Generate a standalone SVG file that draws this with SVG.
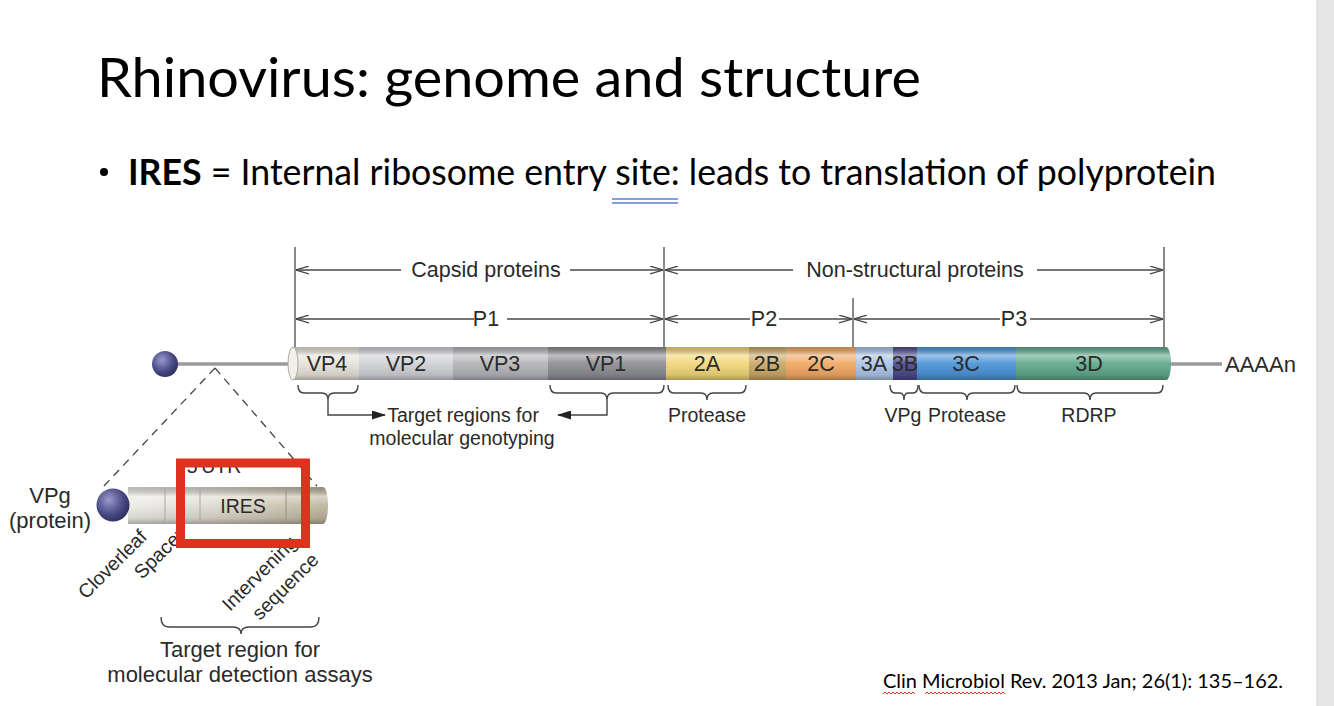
<svg xmlns="http://www.w3.org/2000/svg" width="1334" height="706" viewBox="0 0 1334 706">
<style>
.slide{font-family:Lato,"Open Sans","Liberation Sans",sans-serif;fill:#000}
.lbl{font-family:"Liberation Sans",Arial,sans-serif;fill:#2a2a2a;font-size:21.5px}
.sm{font-family:"Liberation Sans",Arial,sans-serif;fill:#2a2a2a;font-size:19.5px}
.big{font-family:"Liberation Sans",Arial,sans-serif;fill:#2a2a2a;font-size:22px}
.dim{stroke:#4a4a4a;stroke-width:1.3;fill:none}
.brace{stroke:#444;stroke-width:1.4;fill:none}
.mid{text-anchor:middle}
</style>
<defs>
<marker id="chev" viewBox="0 0 13 9" refX="13" refY="4.5" markerWidth="13" markerHeight="9" markerUnits="userSpaceOnUse" orient="auto-start-reverse">
<path d="M0,0.5 L13,4.5 L0,8.5" fill="none" stroke="#444" stroke-width="1.2"/>
</marker>
<marker id="tri" viewBox="0 0 14 9" refX="13" refY="4.5" markerWidth="14" markerHeight="9" markerUnits="userSpaceOnUse" orient="auto">
<path d="M0,0 L14,4.5 L0,9 Z" fill="#222"/>
</marker>
<linearGradient id="shade" x1="0" y1="0" x2="0" y2="1">
<stop offset="0" stop-color="#000" stop-opacity="0.2"/>
<stop offset="0.25" stop-color="#fff" stop-opacity="0.45"/>
<stop offset="0.5" stop-color="#fff" stop-opacity="0.08"/>
<stop offset="0.85" stop-color="#000" stop-opacity="0.1"/>
<stop offset="1" stop-color="#000" stop-opacity="0.3"/>
</linearGradient>
<linearGradient id="utr" x1="0" y1="0" x2="1" y2="0">
<stop offset="0" stop-color="#ecebe6"/>
<stop offset="0.45" stop-color="#dcd8cc"/>
<stop offset="1" stop-color="#bdb49c"/>
</linearGradient>
<radialGradient id="ball" cx="0.38" cy="0.35" r="0.7">
<stop offset="0" stop-color="#9a9acc"/>
<stop offset="0.6" stop-color="#4c4c88"/>
<stop offset="1" stop-color="#2c2c5c"/>
</radialGradient>
</defs>
<rect width="1334" height="706" fill="#fff"/>
<rect x="1317" y="0" width="17" height="706" fill="#e6e6e6"/>
<line x1="1317" y1="0" x2="1317" y2="706" stroke="#d4d4d4" stroke-width="1"/>

<g id="title">
<text class="slide" x="97" y="97" font-size="54" textLength="824" lengthAdjust="spacingAndGlyphs">Rhinovirus: genome and structure</text>
</g>
<g id="bullet">
<circle cx="104" cy="172" r="4" fill="#000"/>
<text class="slide" x="128" y="185" font-size="36" textLength="1088" lengthAdjust="spacingAndGlyphs"><tspan font-weight="bold">IRES</tspan> = Internal ribosome entry site: leads to translation of polyprotein</text>
<line x1="612" y1="199" x2="678" y2="199" stroke="#5b7fd6" stroke-width="1.5"/>
<line x1="612" y1="203" x2="678" y2="203" stroke="#5b7fd6" stroke-width="1.5"/>
</g>

<g id="connectors">
<line class="dim" x1="295" y1="247" x2="295" y2="350"/>
<line class="dim" x1="664" y1="247" x2="664" y2="348"/>
<line class="dim" x1="1164" y1="247" x2="1164" y2="348"/>
<line class="dim" x1="853" y1="298" x2="853" y2="348"/>
<line class="dim" x1="401" y1="270" x2="296" y2="270" marker-end="url(#chev)"/>
<line class="dim" x1="570" y1="270" x2="663" y2="270" marker-end="url(#chev)"/>
<line class="dim" x1="793" y1="270" x2="665" y2="270" marker-end="url(#chev)"/>
<line class="dim" x1="1037" y1="270" x2="1163" y2="270" marker-end="url(#chev)"/>
<line class="dim" x1="474" y1="319" x2="296" y2="319" marker-end="url(#chev)"/>
<line class="dim" x1="507" y1="319" x2="663" y2="319" marker-end="url(#chev)"/>
<line class="dim" x1="750" y1="319" x2="665" y2="319" marker-end="url(#chev)"/>
<line class="dim" x1="779" y1="319" x2="852" y2="319" marker-end="url(#chev)"/>
<line class="dim" x1="1000" y1="319" x2="854" y2="319" marker-end="url(#chev)"/>
<line class="dim" x1="1030" y1="319" x2="1163" y2="319" marker-end="url(#chev)"/>
<path class="brace" d="M298,385 Q298,393 304,393 L322,393 Q328,393 328,400 Q328,393 334,393 L352,393 Q358,393 358,385"/>
<path class="brace" d="M550,385 Q550,393 556,393 L601,393 Q607,393 607,400 Q607,393 613,393 L658,393 Q664,393 664,385"/>
<path class="brace" d="M668,385 Q668,393 674,393 L701,393 Q707,393 707,400 Q707,393 713,393 L740,393 Q746,393 746,385"/>
<path class="brace" d="M890,385 Q890,393 895,393 L900,393 Q904,393 904,400 Q904,393 908,393 L913,393 Q918,393 918,385"/>
<path class="brace" d="M919,385 Q919,393 925,393 L961,393 Q967,393 967,400 Q967,393 973,393 L1009,393 Q1015,393 1015,385"/>
<path class="brace" d="M1017,385 Q1017,393 1023,393 L1084,393 Q1090,393 1090,400 Q1090,393 1096,393 L1157,393 Q1163,393 1163,385"/>
<polyline class="brace" points="328,400 328,415 385,415" marker-end="url(#tri)"/>
<polyline class="brace" points="607,400 607,415 558,415" marker-end="url(#tri)"/>
<line x1="215" y1="368" x2="103" y2="487" stroke="#444" stroke-width="1.3" stroke-dasharray="8,6"/>
<line x1="215" y1="368" x2="317" y2="486" stroke="#444" stroke-width="1.3" stroke-dasharray="8,6"/>
<path class="brace" d="M161,617 Q161,627 169,627 L233,627 Q241,627 241,634 Q241,627 249,627 L311,627 Q319,627 319,617"/>
</g>

<g id="genome">
<line x1="176" y1="364" x2="294" y2="364" stroke="#9a9a9a" stroke-width="3.5"/>
<line x1="1166" y1="364" x2="1222" y2="364" stroke="#9a9a9a" stroke-width="3.5"/>
<circle cx="165" cy="364" r="13" fill="url(#ball)"/>
<rect x="293" y="347" width="66" height="33" fill="#e6e2d8"/>
<rect x="359" y="347" width="94" height="33" fill="#cfd0d4"/>
<rect x="453" y="347" width="95" height="33" fill="#b2b3b7"/>
<rect x="548" y="347" width="118" height="33" fill="#8c8d91"/>
<rect x="666" y="347" width="83" height="33" fill="#f1d577"/>
<rect x="749" y="347" width="37" height="33" fill="#c9a766"/>
<rect x="786" y="347" width="70" height="33" fill="#f0a763"/>
<rect x="856" y="347" width="37" height="33" fill="#aac4e6"/>
<rect x="893" y="347" width="24" height="33" fill="#4b4a8c"/>
<rect x="917" y="347" width="99" height="33" fill="#4a93d6"/>
<rect x="1016" y="347" width="150" height="33" fill="#5ea88b"/>
<ellipse cx="1166" cy="363.5" rx="5" ry="16.5" fill="#5ea88b"/>
<rect x="293" y="347" width="873" height="33" fill="url(#shade)"/>
<path d="M1166,347 A5,16.5 0 0 1 1166,380 Z" fill="url(#shade)"/>
<ellipse cx="293" cy="363.5" rx="5" ry="16.5" fill="#f2efe8" stroke="#a8a8a8" stroke-width="1"/>
<text class="lbl mid" x="327" y="371">VP4</text>
<text class="lbl mid" x="406" y="371">VP2</text>
<text class="lbl mid" x="500" y="371">VP3</text>
<text class="lbl mid" x="606" y="371">VP1</text>
<text class="lbl mid" x="707" y="371">2A</text>
<text class="lbl mid" x="767" y="371">2B</text>
<text class="lbl mid" x="821" y="371">2C</text>
<text class="lbl mid" x="874" y="371">3A</text>
<text class="lbl mid" x="905" y="371" fill="#1e1e1e">3B</text>
<text class="lbl mid" x="966" y="371">3C</text>
<text class="lbl mid" x="1089" y="371">3D</text>
<text class="big" x="1225" y="372">AAAAn</text>
</g>

<g id="dimension-labels">
<text class="lbl mid" x="486" y="277">Capsid proteins</text>
<text class="lbl mid" x="915" y="277">Non-structural proteins</text>
<text class="lbl mid" x="486" y="326">P1</text>
<text class="lbl mid" x="764" y="326">P2</text>
<text class="lbl mid" x="1014" y="326">P3</text>
</g>

<g id="brace-labels">
<text class="sm mid" x="463" y="422">Target regions for</text>
<text class="sm mid" x="462" y="445">molecular genotyping</text>
<text class="sm mid" x="707" y="422">Protease</text>
<text class="sm mid" x="903" y="422">VPg</text>
<text class="sm mid" x="967" y="422">Protease</text>
<text class="sm mid" x="1089" y="422">RDRP</text>
</g>

<g id="utr">
<text class="sm mid" x="214" y="473">5′UTR</text>
<rect x="128" y="487" width="195" height="37" fill="url(#utr)"/>
<ellipse cx="323" cy="505.5" rx="5" ry="18.5" fill="#bdb49c"/>
<rect x="128" y="487" width="195" height="37" fill="url(#shade)"/>
<path d="M323,487 A5,18.5 0 0 1 323,524 Z" fill="url(#shade)"/>
<line x1="165" y1="488" x2="165" y2="523" stroke="#a8a69e" stroke-width="1"/>
<line x1="200" y1="488" x2="200" y2="523" stroke="#a8a69e" stroke-width="1"/>
<line x1="286" y1="488" x2="286" y2="523" stroke="#9a927e" stroke-width="1"/>
<circle cx="113" cy="505" r="16.5" fill="url(#ball)"/>
<text class="sm mid" x="243" y="513">IRES</text>
<text class="big mid" x="50" y="503">VPg</text>
<text class="big mid" x="50" y="528">(protein)</text>
<text class="sm" font-size="21" transform="translate(86,600) rotate(-45)">Cloverleaf</text>
<text class="sm" font-size="21" transform="translate(142,580) rotate(-45)">Spacer</text>
<text class="sm" font-size="21" transform="translate(230,612) rotate(-45)">Intervening</text>
<text class="sm" font-size="21" transform="translate(260,621) rotate(-45)">sequence</text>
<text class="big mid" x="240" y="657">Target region for</text>
<text class="big mid" x="240" y="682">molecular detection assays</text>
</g>

<g id="highlight">
<rect x="180.5" y="463" width="125" height="80.5" fill="none" stroke="#e0301e" stroke-width="9"/>
</g>

<g id="citation">
<text class="slide" x="883" y="688" font-size="19" textLength="400" lengthAdjust="spacingAndGlyphs">Clin Microbiol Rev. 2013 Jan; 26(1): 135–162.</text>
<path d="M883,694 l2,-2 l2,2 l2,-2 l2,2 l2,-2 l2,2 l2,-2 l2,2 l2,-2 l2,2 l2,-2 l2,2 l2,-2 l2,2 l2,-2 l2,2" fill="none" stroke="#e03a2a" stroke-width="1"/>
<path d="M925,694 l2,-2 l2,2 l2,-2 l2,2 l2,-2 l2,2 l2,-2 l2,2 l2,-2 l2,2 l2,-2 l2,2 l2,-2 l2,2 l2,-2 l2,2 l2,-2 l2,2 l2,-2 l2,2 l2,-2 l2,2 l2,-2 l2,2 l2,-2 l2,2 l2,-2 l2,2 l2,-2 l2,2 l2,-2 l2,2 l2,-2 l2,2 l2,-2 l2,2 l2,-2 l2,2 l2,-2 l2,2" fill="none" stroke="#e03a2a" stroke-width="1"/>
</g>
</svg>
